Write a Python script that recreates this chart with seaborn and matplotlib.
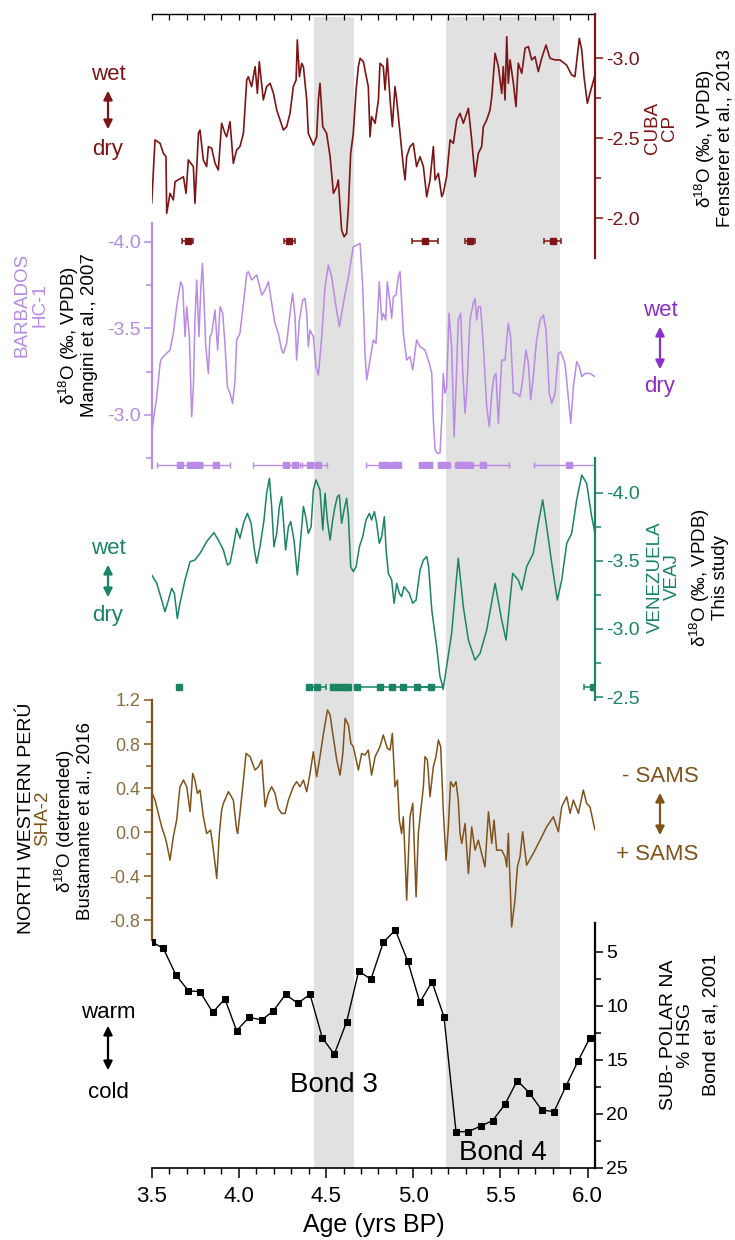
import numpy as np
import matplotlib
matplotlib.use("Agg")
import matplotlib.pyplot as plt
import seaborn as sns

# ---------------- data ----------------
cuba_age = [3.500, 3.519, 3.548, 3.567, 3.582, 3.586, 3.605, 3.624, 3.634, 3.682, 3.697, 3.710, 3.739, 3.748, 3.768,
            3.777, 3.796, 3.815, 3.825, 3.844, 3.863, 3.882, 3.901, 3.920, 3.930, 3.949, 3.968, 3.987, 4.006, 4.026,
            4.045, 4.054, 4.073, 4.093, 4.106, 4.117, 4.140, 4.159, 4.179, 4.198, 4.217, 4.236, 4.255, 4.274, 4.293,
            4.312, 4.328, 4.335, 4.347, 4.360, 4.370, 4.389, 4.398, 4.427, 4.446, 4.456, 4.465, 4.481, 4.503, 4.523,
            4.542, 4.561, 4.570, 4.580, 4.589, 4.603, 4.618, 4.628, 4.641, 4.656, 4.672, 4.685, 4.695, 4.714, 4.723,
            4.742, 4.752, 4.761, 4.781, 4.800, 4.809, 4.828, 4.838, 4.851, 4.867, 4.880, 4.895, 4.905, 4.924, 4.943,
            4.953, 4.962, 4.981, 5.000, 5.019, 5.039, 5.058, 5.077, 5.096, 5.115, 5.125, 5.144, 5.163, 5.172, 5.191,
            5.211, 5.230, 5.249, 5.268, 5.287, 5.316, 5.335, 5.354, 5.373, 5.392, 5.402, 5.421, 5.440, 5.450, 5.469,
            5.488, 5.507, 5.516, 5.526, 5.536, 5.545, 5.555, 5.574, 5.589, 5.602, 5.622, 5.641, 5.660, 5.679, 5.698,
            5.717, 5.736, 5.761, 5.784, 5.813, 5.841, 5.879, 5.908, 5.927, 5.952, 5.966, 5.979, 5.998, 6.013, 6.042]
cuba_d18o = [-2.094, -2.490, -2.469, -2.406, -2.385, -2.031, -2.156, -2.115, -2.229, -2.260, -2.156, -2.365, -2.323,
             -2.094, -2.531, -2.552, -2.365, -2.323, -2.448, -2.438, -2.344, -2.302, -2.594, -2.531, -2.510, -2.604,
             -2.344, -2.427, -2.448, -2.531, -2.865, -2.885, -2.823, -2.948, -2.781, -2.979, -2.740, -2.823, -2.844,
             -2.781, -2.677, -2.615, -2.552, -2.573, -2.656, -2.823, -2.865, -3.115, -2.885, -2.969, -2.948, -2.740,
             -2.531, -2.458, -2.510, -2.740, -2.844, -2.573, -2.531, -2.385, -2.156, -2.198, -2.240, -2.073, -1.927,
             -1.885, -1.906, -2.073, -2.406, -2.531, -2.802, -2.948, -3.000, -2.979, -2.927, -2.823, -2.510, -2.635,
             -2.594, -2.740, -2.969, -2.948, -2.802, -3.000, -2.740, -2.573, -2.823, -2.740, -2.531, -2.323, -2.240,
             -2.385, -2.448, -2.469, -2.323, -2.385, -2.323, -2.135, -2.240, -2.448, -2.240, -2.281, -2.135, -2.156,
             -2.260, -2.490, -2.469, -2.615, -2.656, -2.594, -2.688, -2.490, -2.260, -2.406, -2.448, -2.573, -2.615,
             -2.677, -2.760, -3.031, -2.948, -2.781, -2.948, -2.740, -3.135, -2.844, -2.990, -2.844, -2.698, -2.969,
             -2.906, -3.063, -3.073, -2.990, -3.010, -2.917, -3.000, -3.083, -3.000, -2.990, -2.990, -2.958, -2.896,
             -2.885, -3.125, -3.052, -2.885, -2.719, -2.781, -2.896]
cuba_date_age = [3.706, 4.289, 5.067, 5.325, 5.799]
cuba_date_err = [0.03, 0.03, 0.075, 0.03, 0.05]

barb_age = [3.500, 3.510, 3.529, 3.548, 3.557, 3.605, 3.624, 3.643, 3.666, 3.678, 3.691, 3.701, 3.706, 3.716, 3.729,
            3.739, 3.748, 3.758, 3.771, 3.781, 3.791, 3.800, 3.810, 3.825, 3.834, 3.844, 3.863, 3.878, 3.892, 3.907,
            3.920, 3.934, 3.949, 3.964, 3.978, 3.987, 4.006, 4.026, 4.045, 4.054, 4.073, 4.102, 4.131, 4.150, 4.169,
            4.188, 4.207, 4.226, 4.245, 4.255, 4.274, 4.293, 4.308, 4.322, 4.331, 4.347, 4.366, 4.379, 4.389, 4.398,
            4.408, 4.427, 4.442, 4.456, 4.475, 4.494, 4.513, 4.532, 4.551, 4.576, 4.599, 4.628, 4.656, 4.695, 4.710,
            4.723, 4.733, 4.752, 4.771, 4.786, 4.800, 4.805, 4.819, 4.828, 4.842, 4.851, 4.867, 4.876, 4.886, 4.901,
            4.914, 4.924, 4.943, 4.962, 4.981, 4.997, 5.019, 5.039, 5.067, 5.092, 5.106, 5.115, 5.125, 5.138, 5.153,
            5.163, 5.172, 5.182, 5.191, 5.205, 5.220, 5.234, 5.245, 5.258, 5.272, 5.283, 5.297, 5.306, 5.325, 5.344,
            5.354, 5.364, 5.373, 5.386, 5.402, 5.421, 5.436, 5.450, 5.463, 5.474, 5.488, 5.507, 5.526, 5.545, 5.558,
            5.574, 5.593, 5.612, 5.627, 5.646, 5.660, 5.673, 5.688, 5.707, 5.727, 5.746, 5.761, 5.780, 5.794, 5.813,
            5.832, 5.845, 5.870, 5.883, 5.903, 5.918, 5.937, 5.952, 5.966, 5.985, 6.013, 6.042]
barb_d18o = [-2.894, -2.971, -3.106, -3.298, -3.327, -3.375, -3.471, -3.625, -3.769, -3.740, -3.452, -3.625, -3.567,
             -3.452, -2.990, -3.163, -3.548, -3.779, -3.452, -3.721, -3.875, -3.663, -3.394, -3.240, -3.452, -3.471,
             -3.606, -3.375, -3.625, -3.587, -3.413, -3.163, -3.125, -3.067, -3.202, -3.433, -3.471, -3.644, -3.817,
             -3.827, -3.779, -3.808, -3.692, -3.721, -3.769, -3.644, -3.529, -3.471, -3.375, -3.356, -3.413, -3.587,
             -3.702, -3.567, -3.317, -3.548, -3.663, -3.673, -3.587, -3.394, -3.490, -3.452, -3.279, -3.231, -3.452,
             -3.740, -3.865, -3.798, -3.663, -3.510, -3.644, -3.798, -3.971, -3.990, -3.740, -3.356, -3.202, -3.317,
             -3.433, -3.413, -3.663, -3.769, -3.548, -3.587, -3.548, -3.769, -3.644, -3.558, -3.683, -3.692, -3.798,
             -3.827, -3.471, -3.317, -3.337, -3.260, -3.433, -3.394, -3.375, -3.298, -3.240, -2.971, -2.798, -2.779,
             -2.779, -2.971, -3.240, -3.125, -3.163, -3.587, -3.394, -2.875, -3.163, -3.548, -3.587, -3.260, -3.010,
             -3.125, -3.548, -3.644, -3.673, -3.548, -3.625, -3.625, -3.394, -3.048, -2.933, -3.125, -3.221, -3.240,
             -2.952, -3.317, -3.317, -3.529, -3.452, -3.125, -3.125, -3.106, -3.202, -3.375, -3.298, -3.087, -3.221,
             -3.433, -3.548, -3.577, -3.490, -3.125, -3.067, -3.125, -3.356, -3.365, -3.298, -3.163, -2.952, -3.163,
             -3.308, -3.279, -3.221, -3.240, -3.240, -3.221]
barb_date_age = [3.66, 3.72, 3.745, 3.77, 3.87, 4.27, 4.32, 4.41, 4.455, 4.82, 4.85, 4.895, 4.91,
                 5.05, 5.09, 5.16, 5.19, 5.26, 5.29, 5.32, 5.40, 5.895]
barb_date_err = [0.13, 0.02, 0.02, 0.02, 0.08, 0.19, 0.03, 0.05, 0.05, 0.09, 0.02, 0.02, 0.015,
                 0.015, 0.02, 0.02, 0.02, 0.02, 0.02, 0.02, 0.15, 0.20]

ven_age = [3.500, 3.529, 3.557, 3.576, 3.596, 3.615, 3.630, 3.647, 3.662, 3.691, 3.720, 3.748, 3.777, 3.815, 3.857,
           3.882, 3.911, 3.934, 3.949, 3.968, 3.987, 4.006, 4.029, 4.049, 4.070, 4.089, 4.102, 4.121, 4.144, 4.159,
           4.175, 4.188, 4.201, 4.217, 4.232, 4.245, 4.255, 4.268, 4.284, 4.297, 4.316, 4.335, 4.347, 4.370, 4.383,
           4.398, 4.414, 4.427, 4.442, 4.465, 4.481, 4.494, 4.507, 4.523, 4.538, 4.551, 4.565, 4.576, 4.589, 4.603,
           4.618, 4.628, 4.641, 4.656, 4.672, 4.691, 4.710, 4.729, 4.748, 4.761, 4.777, 4.790, 4.805, 4.819, 4.834,
           4.844, 4.857, 4.876, 4.890, 4.905, 4.920, 4.933, 4.947, 4.962, 4.977, 4.997, 5.016, 5.039, 5.058, 5.077,
           5.088, 5.106, 5.134, 5.153, 5.172, 5.191, 5.220, 5.258, 5.287, 5.316, 5.354, 5.383, 5.421, 5.469, 5.507,
           5.532, 5.570, 5.602, 5.622, 5.650, 5.669, 5.688, 5.717, 5.742, 5.765, 5.794, 5.826, 5.851, 5.880, 5.908,
           5.937, 5.966, 5.994, 6.023, 6.042]
ven_d18o = [-3.397, -3.336, -3.213, -3.127, -3.213, -3.299, -3.262, -3.078, -3.189, -3.360, -3.495, -3.507, -3.556,
            -3.642, -3.708, -3.654, -3.581, -3.471, -3.483, -3.605, -3.740, -3.667, -3.789, -3.850, -3.777, -3.581,
            -3.483, -3.605, -3.801, -3.998, -4.108, -3.900, -3.605, -3.703, -3.900, -3.973, -3.801, -3.581, -3.752,
            -3.789, -3.654, -3.397, -3.556, -3.900, -3.826, -3.703, -3.752, -4.022, -4.096, -4.022, -3.728, -3.998,
            -3.801, -3.654, -3.801, -3.900, -3.973, -3.985, -3.777, -3.875, -3.961, -3.826, -3.458, -3.422, -3.458,
            -3.605, -3.679, -3.801, -3.850, -3.801, -3.863, -3.777, -3.630, -3.679, -3.826, -3.581, -3.409, -3.360,
            -3.189, -3.336, -3.262, -3.238, -3.311, -3.287, -3.262, -3.189, -3.213, -3.434, -3.507, -3.532, -3.458,
            -3.140, -2.870, -2.650, -2.564, -2.723, -2.968, -3.520, -3.164, -2.919, -2.772, -2.821, -2.993, -3.336,
            -3.066, -2.919, -3.409, -3.360, -3.287, -3.458, -3.507, -3.556, -3.777, -3.949, -3.752, -3.483, -3.213,
            -3.360, -3.630, -3.703, -3.949, -4.132, -4.071, -3.826, -3.703]
ven_date_age = [3.658, 4.40, 4.45, 4.54, 4.57, 4.60, 4.625, 4.676, 4.809, 4.876, 4.943, 5.023, 5.10, 6.03]
ven_date_err = [0.005, 0.005, 0.05, 0.01, 0.01, 0.01, 0.01, 0.005, 0.13, 0.005, 0.005, 0.08, 0.07, 0.05]

peru_age = [3.500, 3.519, 3.538, 3.557, 3.576, 3.586, 3.605, 3.624, 3.643, 3.662, 3.682, 3.701, 3.720, 3.735, 3.748,
            3.762, 3.777, 3.796, 3.815, 3.838, 3.854, 3.873, 3.888, 3.901, 3.911, 3.940, 3.968, 3.987, 3.993, 4.006,
            4.026, 4.041, 4.064, 4.093, 4.112, 4.131, 4.150, 4.169, 4.188, 4.207, 4.226, 4.245, 4.265, 4.284, 4.312,
            4.331, 4.350, 4.370, 4.389, 4.408, 4.427, 4.446, 4.465, 4.485, 4.508, 4.523, 4.538, 4.561, 4.580, 4.596,
            4.609, 4.628, 4.642, 4.656, 4.685, 4.704, 4.723, 4.742, 4.761, 4.781, 4.809, 4.828, 4.851, 4.867, 4.880,
            4.895, 4.909, 4.920, 4.933, 4.943, 4.953, 4.962, 4.981, 4.997, 5.010, 5.016, 5.029, 5.039, 5.058, 5.067,
            5.081, 5.096, 5.115, 5.130, 5.144, 5.157, 5.172, 5.188, 5.201, 5.214, 5.230, 5.245, 5.258, 5.268, 5.278,
            5.297, 5.316, 5.335, 5.354, 5.373, 5.392, 5.411, 5.431, 5.450, 5.463, 5.478, 5.507, 5.526, 5.536, 5.545,
            5.555, 5.564, 5.583, 5.597, 5.612, 5.627, 5.650, 5.688, 5.727, 5.765, 5.803, 5.832, 5.851, 5.880, 5.899,
            5.918, 5.947, 5.975, 5.994, 6.013, 6.042]
peru_d18o = [0.367, 0.291, 0.170, 0.048, -0.042, -0.103, -0.255, -0.042, 0.109, 0.412, 0.473, 0.412, 0.185, 0.533,
             0.473, 0.352, 0.382, 0.139, -0.012, 0.018, -0.164, -0.421, -0.012, 0.200, 0.261, 0.367, 0.291, 0.018,
             -0.012, 0.170, 0.473, 0.715, 0.685, 0.564, 0.594, 0.655, 0.230, 0.352, 0.412, 0.352, 0.215, 0.170,
             0.170, 0.291, 0.412, 0.458, 0.412, 0.473, 0.367, 0.533, 0.730, 0.503, 0.685, 0.897, 1.109, 1.064,
             0.897, 0.655, 0.518, 0.715, 1.033, 0.973, 0.806, 0.776, 0.564, 0.715, 0.700, 0.745, 0.518, 0.685,
             0.776, 0.882, 0.761, 0.745, 0.897, 0.412, 0.473, 0.109, -0.012, 0.139, -0.224, -0.618, 0.139, 0.261,
             -0.315, -0.588, -0.012, 0.139, 0.412, 0.685, 0.655, 0.321, 0.594, 0.685, 0.836, 0.776, 0.200, -0.255,
             0.048, 0.458, 0.412, 0.458, 0.291, -0.012, -0.103, 0.079, -0.376, 0.048, -0.164, -0.073, -0.194,
             -0.315, 0.185, -0.103, 0.109, -0.164, -0.164, -0.224, -0.315, -0.012, -0.467, -0.861, -0.618, -0.315,
             -0.224, 0.003, -0.300, -0.194, -0.073, 0.048, 0.139, 0.003, 0.230, 0.321, 0.170, 0.291, 0.170, 0.382,
             0.261, 0.230, 0.018]

bond_age = [3.500, 3.567, 3.639, 3.710, 3.777, 3.850, 3.920, 3.987, 4.058, 4.131, 4.197, 4.268, 4.337, 4.408, 4.478,
            4.547, 4.618, 4.687, 4.757, 4.828, 4.897, 4.968, 5.038, 5.107, 5.176, 5.245, 5.315, 5.388, 5.455, 5.526,
            5.596, 5.665, 5.736, 5.807, 5.876, 5.946, 6.013]
bond_hsg = [4.08, 4.69, 7.15, 8.60, 8.70, 10.60, 9.37, 12.30, 11.06, 11.31, 10.48, 8.94, 9.77, 8.94, 12.95, 14.48,
            11.47, 6.78, 7.55, 4.13, 2.99, 5.86, 9.68, 7.77, 11.01, 21.64, 21.64, 21.11, 20.62, 19.10, 16.92, 18.03,
            19.63, 19.79, 17.41, 15.07, 12.95]

bond_events = [(4.43, 4.66), (5.19, 5.84)]
bond_event_labels = ["Bond 3", "Bond 4"]
x_ticks = [3.5, 4.0, 4.5, 5.0, 5.5, 6.0]

# ---------------- style ----------------
sns.set_style("white")
plt.rcParams['font.family'] = ['Liberation Sans', 'DejaVu Sans']
plt.rcParams['mathtext.fontset'] = 'custom'
plt.rcParams['mathtext.rm'] = 'Liberation Sans'
plt.rcParams['mathtext.it'] = 'Liberation Sans:italic'
plt.rcParams['mathtext.bf'] = 'Liberation Sans:bold'
plt.rcParams['text.color'] = 'black'
plt.rcParams['axes.labelcolor'] = 'black'
plt.rcParams['xtick.color'] = 'black'
plt.rcParams['ytick.color'] = 'black'
plt.rcParams['axes.edgecolor'] = 'black'

C_CUBA = '#7c1515'
C_BARB = '#b98ae6'
C_BARB_TXT = '#b68be3'
C_BARB_ARR = '#8a2fc8'
C_VEN = '#1a8464'
C_PERU = '#7f531b'
C_PERU_TK = '#8d6d40'

W, H = 735, 1240
fig = plt.figure(figsize=(W / 100, H / 100), dpi=100)


def rect(x0, y0, x1, y1):
    return [x0 / W, 1 - y1 / H, (x1 - x0) / W, (y1 - y0) / H]


def fp(x, y):
    return (x / W, 1 - y / H)


XL, XR = 151.7, 595
XLIM = (3.5, 6.042)

# ---------------- base axes: shading + age axis ----------------
main = fig.add_axes(rect(XL, 14, XR, 1168))
main.set_xlim(*XLIM)
main.set_ylim(0, 1)
main.patch.set_visible(False)
for s in ['left', 'right', 'top']:
    main.spines[s].set_visible(False)
main.spines['bottom'].set_linewidth(1.2)
main.spines['bottom'].set_color('black')
main.set_yticks([])
for (a0, a1) in bond_events:
    main.axvspan(a0, a1, ymin=0, ymax=0.997, color='#e1e1e1', lw=0, zorder=0)
main.set_xticks(x_ticks)
main.set_xticklabels([f"{v:.1f}" for v in x_ticks])
main.set_xticks(np.arange(3.5, 6.05, 0.1), minor=True)
main.tick_params(axis='x', which='major', direction='out', length=7, width=1.1, labelsize=16, pad=6,
                 colors='black')
main.tick_params(axis='x', which='minor', direction='out', length=4, width=1.0, colors='black')
main.set_xlabel("Age (yrs BP)", fontsize=18, labelpad=4, color='black')

top = main.twiny()
top.set_xlim(*XLIM)
for s in ['left', 'right', 'bottom']:
    top.spines[s].set_visible(False)
top.spines['top'].set_linewidth(1.0)
top.spines['top'].set_color('black')
top.set_xticks(np.arange(3.5, 6.05, 0.1))
top.set_xticklabels([])
top.tick_params(axis='x', which='major', direction='in', length=4, width=0.9, colors='black')

main.text(4.545, 0.072, bond_event_labels[0], fontsize=20, ha='center', va='center', color='black',
          transform=main.get_xaxis_transform())
main.text(5.515, 0.013, bond_event_labels[1], fontsize=20, ha='center', va='center', color='black',
          transform=main.get_xaxis_transform())


def panel(y0, y1, side, ylim, color, major, minor, labels, labelcolor, labelsize):
    ax = fig.add_axes(rect(XL, y0, XR, y1))
    ax.set_xlim(*XLIM)
    ax.set_ylim(*ylim)
    ax.patch.set_visible(False)
    for s in ax.spines:
        ax.spines[s].set_visible(s == side)
    ax.spines[side].set_color(color)
    ax.spines[side].set_linewidth(1.6)
    ax.set_xticks([])
    ax.yaxis.set_ticks_position(side)
    ax.set_yticks(major)
    ax.set_yticklabels(labels)
    ax.set_yticks(minor, minor=True)
    ax.tick_params(axis='y', which='both', colors=color, labelcolor=labelcolor, direction='out', width=1.1)
    ax.tick_params(axis='y', which='major', length=6, labelsize=labelsize, pad=2)
    ax.tick_params(axis='y', which='minor', length=4)
    ax.set_xlabel('')
    ax.set_ylabel('')
    return ax


# Cuba
ax1 = panel(14, 258, 'right', (-1.752, -3.277), C_CUBA, [-3.0, -2.5, -2.0], [-2.75, -2.25],
            ["-3.0", "-2.5", "-2.0"], C_CUBA, 14)
sns.lineplot(x=cuba_age, y=cuba_d18o, ax=ax1, color=C_CUBA, linewidth=1.2, estimator=None, sort=False)
ax1.errorbar(cuba_date_age, [-1.86] * len(cuba_date_age), xerr=cuba_date_err, fmt='s', color=C_CUBA,
             ms=4, capsize=2.5, elinewidth=1.1, capthick=1.1)

# Barbados
ax2 = panel(223, 468, 'left', (-2.694, -4.108), C_BARB, [-4.0, -3.5, -3.0], [-3.75, -3.25, -2.75],
            ["-4.0", "-3.5", "-3.0"], C_BARB_TXT, 14)
sns.lineplot(x=barb_age, y=barb_d18o, ax=ax2, color=C_BARB, linewidth=1.1, estimator=None, sort=False)
ax2.errorbar(barb_date_age, [-2.71] * len(barb_date_age), xerr=barb_date_err, fmt='s', color=C_BARB,
             ms=4.5, capsize=2.5, elinewidth=1.0, capthick=1.0)

# Venezuela
ax3 = panel(458, 700, 'right', (-2.478, -4.257), C_VEN, [-4.0, -3.5, -3.0, -2.5], [-3.75, -3.25, -2.75],
            ["-4.0", "-3.5", "-3.0", "-2.5"], C_VEN, 14)
sns.lineplot(x=ven_age, y=ven_d18o, ax=ax3, color=C_VEN, linewidth=1.1, estimator=None, sort=False)
ax3.errorbar(ven_date_age, [-2.571] * len(ven_date_age), xerr=ven_date_err, fmt='s', color=C_VEN,
             ms=4.5, capsize=2.5, elinewidth=1.1, capthick=1.1)

# Peru
ax4 = panel(700, 940, 'left', (-0.98, 1.2), C_PERU, [1.2, 0.8, 0.4, 0.0, -0.4, -0.8], [1.0, 0.6, 0.2, -0.2, -0.6],
            ["1.2", "0.8", "0.4", "0.0", "-0.4", "-0.8"], C_PERU_TK, 13)
sns.lineplot(x=peru_age, y=peru_d18o, ax=ax4, color=C_PERU, linewidth=1.1, estimator=None, sort=False)

# Bond
ax5 = panel(923, 1168, 'right', (25, 2.34), 'black', [5, 10, 15, 20, 25], [7.5, 12.5, 17.5, 22.5],
            ["5", "10", "15", "20", "25"], 'black', 14)
sns.lineplot(x=bond_age, y=bond_hsg, ax=ax5, color='black', linewidth=1.0, marker='s', markersize=4.5,
             markeredgecolor='black', estimator=None, sort=False)

# ---------------- annotation texts ----------------
D18 = "δ$^{18}$O"


def vtext(x, y, s, color='black', size=13.5):
    fig.text(x / W, 1 - y / H, s, rotation=90, ha='center', va='center', color=color, fontsize=size,
             multialignment='center', linespacing=1.0)


def arrow(x, y0, y1, color):
    fig.add_artist(matplotlib.patches.FancyArrowPatch(fp(x, y0), fp(x, y1), transform=fig.transFigure,
                                                      arrowstyle='<|-|>', mutation_scale=13, color=color, lw=1.6))


def htext(x, y, s, color, size=16):
    fig.text(x / W, 1 - y / H, s, ha='center', va='center', color=color, fontsize=size)


# Cuba
htext(108, 75, "wet", C_CUBA)
arrow(108, 88, 132, C_CUBA)
htext(108, 150, "dry", C_CUBA)
vtext(661, 128, "CUBA\nCP", C_CUBA)
vtext(713, 138, D18 + " (‰, VPDB)\nFensterer et al., 2013")

# Barbados
vtext(31, 305, "BARBADOS\nHC-1", C_BARB_TXT)
vtext(77, 335, D18 + " (‰, VPDB)\nMangini et al., 2007")
htext(660, 310, "wet", C_BARB_ARR)
arrow(660, 324, 372, C_BARB_ARR)
htext(660, 387, "dry", C_BARB_ARR)

# Venezuela
htext(108, 548, "wet", C_VEN)
arrow(108, 562, 600, C_VEN)
htext(108, 615, "dry", C_VEN)
vtext(664, 577, "VENEZUELA\nVEAJ", C_VEN)
vtext(708, 577, D18 + " (‰, VPDB)\nThis study")

# Peru
vtext(27, 818, "NORTH WESTERN PERÚ", 'black', 14)
vtext(43, 818, "SHA-2", C_PERU, 13.5)
vtext(73, 821, D18 + " (detrended)\nBustamante et al., 2016")
htext(660, 777, "- SAMS", C_PERU)
arrow(660, 790, 838, C_PERU)
htext(657, 855, "+ SAMS", C_PERU)

# Bond
htext(108, 1012, "warm", 'black')
arrow(108, 1023, 1073, 'black')
htext(108, 1093, "cold", 'black')
vtext(677, 1035, "SUB- POLAR NA\n% HSG", 'black', 14)
vtext(711, 1025, "Bond et al, 2001", 'black', 14)

fig.savefig("out.png", dpi=100)
